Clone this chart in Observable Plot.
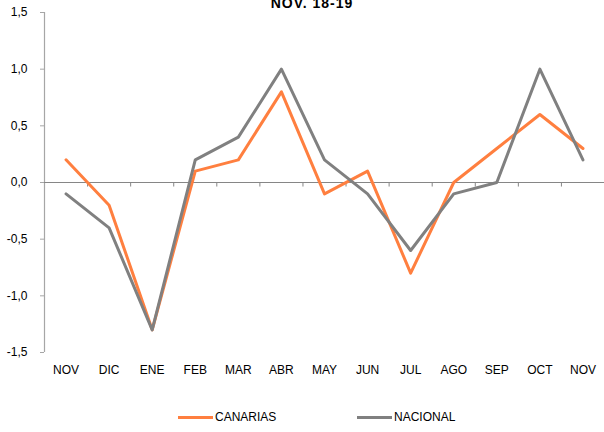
<!DOCTYPE html>
<html>
<head>
<meta charset="utf-8">
<script src="https://cdn.jsdelivr.net/npm/d3@7"></script>
<script src="https://cdn.jsdelivr.net/npm/@observablehq/plot@0.6"></script>
<style>
  html, body { margin: 0; padding: 0; background: #fff; }
  #wrap { position: relative; width: 604px; height: 432px; overflow: hidden; font-family: "Liberation Sans", Arial, sans-serif; }
  #title { position: absolute; top: -5px; left: 0; width: 624px; text-align: center; font-weight: bold; font-size: 14px; letter-spacing: 1px; color: #000; }
  #chart { position: absolute; top: 0; left: 0; }
  .leg { position: absolute; top: 410px; font-size: 12px; color: #000; display: flex; align-items: center; }
  .sw { display: inline-block; width: 35px; height: 3px; margin-right: 2px; }
</style>
</head>
<body>
<div id="wrap">
  <div id="chart"></div>
  <div id="title">NOV. 18-19</div>
  <div class="leg" style="left:178px"><span class="sw" style="background:#FF7F3F"></span>CANARIAS</div>
  <div class="leg" style="left:357px"><span class="sw" style="background:#808080"></span>NACIONAL</div>
</div>
<script>
const months = ["NOV","DIC","ENE","FEB","MAR","ABR","MAY","JUN","JUL","AGO","SEP","OCT","NOV"];
const canarias = [0.2, -0.2, -1.3, 0.1, 0.2, 0.8, -0.1, 0.1, -0.8, 0.0, 0.3, 0.6, 0.3];
const nacional = [-0.1, -0.4, -1.3, 0.2, 0.4, 1.0, 0.2, -0.1, -0.6, -0.1, 0.0, 1.0, 0.2];
const yTicks = [-1.5, -1.0, -0.5, 0.0, 0.5, 1.0, 1.5];

const idx = months.map((_, i) => i);
const boundaries = d3.range(0, 13).map(i => i - 0.5);
const fmt = d => d.toFixed(1).replace(".", ",");

const chart = Plot.plot({
  width: 604,
  height: 395,
  marginLeft: 44,
  marginRight: 0,
  marginTop: 12,
  marginBottom: 43,
  style: { fontFamily: "'Liberation Sans', Arial, sans-serif", fontSize: "12px", color: "#000", background: "white" },
  x: { type: "linear", domain: [-0.5, 12.5] },
  y: { domain: [-1.5, 1.5] },
  marks: [
    Plot.ruleX([-0.5], { y1: -1.5, y2: 1.5, stroke: "#a6a6a6", strokeWidth: 1.2 }),
    Plot.ruleY([0], { x1: -0.5, x2: 12.5, stroke: "#868686", strokeWidth: 1.2 }),
    Plot.ruleX(boundaries.slice(1), { y1: 0, y2: -0.04, stroke: "#868686" }),
    Plot.axisY({ ticks: yTicks, tickFormat: fmt, tickSize: 4, tickPadding: 13, stroke: "#a6a6a6", label: null, fontSize: 12 }),
    Plot.axisX({ ticks: idx, tickFormat: i => months[i], tickSize: 0, tickPadding: 13, label: null, fontSize: 12 }),
    Plot.line(idx, { x: i => i, y: i => canarias[i], stroke: "#FF7F3F", strokeWidth: 3 }),
    Plot.line(idx, { x: i => i, y: i => nacional[i], stroke: "#808080", strokeWidth: 3 })
  ]
});
document.getElementById("chart").appendChild(chart);
</script>
</body>
</html>
